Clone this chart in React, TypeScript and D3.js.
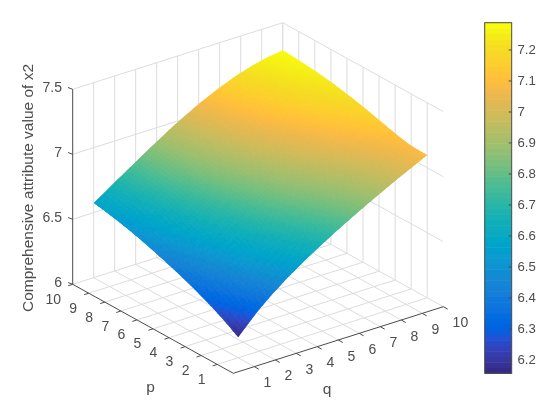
import React from "react";
import * as d3 from "d3";

const pTicks = [1, 2, 3, 4, 5, 6, 7, 8, 9, 10];
const qTicks = [1, 2, 3, 4, 5, 6, 7, 8, 9, 10];
const zTicks = [6, 6.5, 7, 7.5];
const zTickLabels = ["6", "6.5", "7", "7.5"];
const cbTicks = [6.2, 6.3, 6.4, 6.5, 6.6, 6.7, 6.8, 6.9, 7, 7.1, 7.2];
const cbLabels = ["6.2", "6.3", "6.4", "6.5", "6.6", "6.7", "6.8", "6.9", "7", "7.1", "7.2"];

// rows: p = 1..10, columns: q = 1..10
const zRowP1 = [6.157, 6.319, 6.452, 6.566, 6.668, 6.763, 6.853, 6.938, 7.019, 7.098];
const zRowP2 = [6.233, 6.384, 6.509, 6.617, 6.713, 6.802, 6.886, 6.963, 7.035, 7.103];
const zRowP3 = [6.298, 6.441, 6.562, 6.667, 6.761, 6.848, 6.928, 7.001, 7.068, 7.128];
const zRowP4 = [6.354, 6.492, 6.61, 6.714, 6.809, 6.895, 6.974, 7.045, 7.108, 7.163];
const zRowP5 = [6.403, 6.536, 6.652, 6.756, 6.852, 6.938, 7.017, 7.086, 7.146, 7.196];
const zRowP6 = [6.447, 6.575, 6.689, 6.794, 6.89, 6.977, 7.055, 7.123, 7.18, 7.226];
const zRowP7 = [6.487, 6.61, 6.723, 6.827, 6.923, 7.011, 7.088, 7.155, 7.209, 7.25];
const zRowP8 = [6.522, 6.64, 6.75, 6.854, 6.951, 7.039, 7.116, 7.18, 7.231, 7.267];
const zRowP9 = [6.551, 6.664, 6.773, 6.877, 6.974, 7.062, 7.138, 7.201, 7.249, 7.28];
const zRowP10 = [6.574, 6.682, 6.789, 6.893, 6.991, 7.079, 7.155, 7.217, 7.262, 7.288];
const zRows = [zRowP1, zRowP2, zRowP3, zRowP4, zRowP5, zRowP6, zRowP7, zRowP8, zRowP9, zRowP10];

const parula = [
  [0.2081, 0.1663, 0.5292], [0.2116, 0.1898, 0.5777], [0.2123, 0.2138, 0.627], [0.2081, 0.2386, 0.6771],
  [0.1959, 0.2645, 0.7279], [0.1707, 0.2919, 0.7792], [0.1253, 0.3242, 0.8303], [0.0591, 0.3598, 0.8683],
  [0.0117, 0.3875, 0.882], [0.006, 0.4086, 0.8828], [0.0165, 0.4266, 0.8786], [0.0329, 0.443, 0.872],
  [0.0498, 0.4586, 0.8641], [0.0629, 0.4737, 0.8554], [0.0723, 0.4887, 0.8467], [0.0779, 0.504, 0.8384],
  [0.0793, 0.52, 0.8312], [0.0749, 0.5375, 0.8263], [0.0641, 0.557, 0.824], [0.0488, 0.5772, 0.8228],
  [0.0343, 0.5966, 0.8199], [0.0265, 0.6137, 0.8135], [0.0239, 0.6287, 0.8038], [0.0231, 0.6418, 0.7913],
  [0.0228, 0.6535, 0.7768], [0.0267, 0.6642, 0.7607], [0.0384, 0.6743, 0.7436], [0.059, 0.6838, 0.7254],
  [0.0843, 0.6928, 0.7062], [0.1133, 0.7015, 0.6859], [0.1453, 0.7098, 0.6646], [0.1801, 0.7177, 0.6424],
  [0.2178, 0.725, 0.6193], [0.2586, 0.7317, 0.5954], [0.3022, 0.7376, 0.5712], [0.3482, 0.7424, 0.5473],
  [0.3953, 0.7459, 0.5244], [0.442, 0.7481, 0.5033], [0.4871, 0.7491, 0.484], [0.53, 0.7491, 0.4661],
  [0.5709, 0.7485, 0.4494], [0.6099, 0.7473, 0.4337], [0.6473, 0.7456, 0.4188], [0.6834, 0.7435, 0.4044],
  [0.7184, 0.7411, 0.3905], [0.7525, 0.7384, 0.3768], [0.7858, 0.7356, 0.3633], [0.8185, 0.7327, 0.3498],
  [0.8507, 0.7299, 0.336], [0.8824, 0.7274, 0.3217], [0.9139, 0.7258, 0.3063], [0.945, 0.7261, 0.2886],
  [0.9739, 0.7314, 0.2666], [0.9938, 0.7455, 0.2403], [0.999, 0.7653, 0.2164], [0.9955, 0.7861, 0.1967],
  [0.988, 0.8066, 0.1794], [0.9789, 0.8271, 0.1633], [0.9697, 0.8481, 0.1475], [0.9626, 0.8705, 0.1309],
  [0.9589, 0.8949, 0.1132], [0.9598, 0.9218, 0.0948], [0.9661, 0.9514, 0.0755], [0.9763, 0.9831, 0.0538],
];
const cmapColors = parula.map(([r, g, b]) => d3.rgb(r * 255, g * 255, b * 255).formatRgb());

const zMin = 6.157;
const zMax = 7.288;
const colorAt = d3
  .scaleLinear<string>()
  .domain(d3.range(64).map((i) => zMin + ((zMax - zMin) * i) / 63))
  .range(cmapColors)
  .clamp(true);

// projection of the axes box
const originX = 233.3;
const originY = 373.3;
const qToX = d3.scaleLinear().domain([0, 10]).range([0, 210]);
const qToY = d3.scaleLinear().domain([0, 10]).range([0, -66.6]);
const pToX = d3.scaleLinear().domain([0, 10]).range([0, -160.6]);
const pToY = d3.scaleLinear().domain([0, 10]).range([0, -89]);
const zToY = d3.scaleLinear().domain([6, 7.5]).range([0, -195]);
const project = (p: number, q: number, z: number): [number, number] => [
  originX + qToX(q) + pToX(p),
  originY + qToY(q) + pToY(p) + zToY(z),
];
const pathOf = d3.line<[number, number]>();
const seg = (a: [number, number, number], b: [number, number, number]) =>
  pathOf([project(a[0], a[1], a[2]), project(b[0], b[1], b[2])]) as string;

// Catmull-Rom through the read grid values, so that the sheet stays smooth between them
const cr = (a: number, b: number, c: number, d: number, t: number) =>
  0.5 * (2 * b + (c - a) * t + (2 * a - 5 * b + 4 * c - d) * t * t + (3 * b - a - 3 * c + d) * t * t * t);
const edge = (arr: number[], i: number) => {
  if (i < 0) return 2 * arr[0] - arr[1];
  if (i >= arr.length) return 2 * arr[arr.length - 1] - arr[arr.length - 2];
  return arr[i];
};
const alongRow = (row: number[], i: number, t: number) =>
  cr(edge(row, i - 1), edge(row, i), edge(row, i + 1), edge(row, i + 2), t);
function zSmooth(pi: number, s: number, qi: number, t: number) {
  const col = zRows.map((row) => alongRow(row, qi, t));
  return alongRow(col, pi, s);
}

const SUB = 7;
function surfaceCells() {
  const n = 9 * SUB;
  const grid: number[][] = d3.range(n + 1).map((i) =>
    d3.range(n + 1).map((j) => {
      const pi = Math.min(8, Math.floor(i / SUB));
      const qi = Math.min(8, Math.floor(j / SUB));
      return zSmooth(pi, i / SUB - pi, qi, j / SUB - qi);
    })
  );
  const pos = (i: number) => 1 + i / SUB;
  const cells: { d: string; c: string }[] = [];
  for (let i = n - 1; i >= 0; i--) {
    for (let j = n - 1; j >= 0; j--) {
      const pts: [number, number][] = [
        project(pos(i), pos(j), grid[i][j]),
        project(pos(i + 1), pos(j), grid[i + 1][j]),
        project(pos(i + 1), pos(j + 1), grid[i + 1][j + 1]),
        project(pos(i), pos(j + 1), grid[i][j + 1]),
      ];
      cells.push({
        d: (pathOf(pts) as string) + "Z",
        c: colorAt((grid[i][j] + grid[i + 1][j] + grid[i + 1][j + 1] + grid[i][j + 1]) / 4),
      });
    }
  }
  const outline: [number, number][] = [];
  for (let j = 0; j <= n; j++) outline.push(project(1, pos(j), grid[0][j]));
  for (let i = 1; i <= n; i++) outline.push(project(pos(i), 10, grid[i][n]));
  for (let j = n - 1; j >= 0; j--) outline.push(project(10, pos(j), grid[n][j]));
  for (let i = n - 1; i > 0; i--) outline.push(project(pos(i), 1, grid[i][0]));
  return { cells, outline: (pathOf(outline) as string) + "Z" };
}

const FONT = "'Liberation Sans', Arial, sans-serif";
const TEXT = "#4d4d4d";
const GRID = "#dcdcdc";
const AXIS = "#4a4a4a";

const cbX = 484.7;
const cbW = 27;
const cbTop = 22.7;
const cbBottom = 373.3;
const cbScale = d3.scaleLinear().domain([zMin, zMax]).range([cbBottom, cbTop]);
const cbBand = d3.scaleBand<number>().domain(d3.range(64)).range([cbBottom, cbTop]);

export default function App() {
  const { cells, outline } = surfaceCells();
  return (
    <svg
      width={550}
      height={412}
      viewBox="0 0 550 412"
      style={{ position: "absolute", left: 0, top: 0, display: "block", background: "#fff" }}
      fontFamily={FONT}
    >
      <defs>
        <filter id="soft" x="0" y="0" width="100%" height="100%">
          <feGaussianBlur stdDeviation="0.4" />
        </filter>
        <clipPath id="sheet">
          <path d={outline} />
        </clipPath>
      </defs>
      <g filter="url(#soft)">
        <g stroke={GRID} strokeWidth={1} fill="none">
          {qTicks.map((q) => (
            <path key={"fq" + q} d={seg([0, q, 6], [10, q, 6])} />
          ))}
          {pTicks.map((p) => (
            <path key={"fp" + p} d={seg([p, 0, 6], [p, 10, 6])} />
          ))}
          {qTicks.map((q) => (
            <path key={"wq" + q} d={seg([10, q, 6], [10, q, 7.5])} />
          ))}
          {pTicks.map((p) => (
            <path key={"wp" + p} d={seg([p, 10, 6], [p, 10, 7.5])} />
          ))}
          {zTicks.slice(1).map((z) => (
            <path key={"zl" + z} d={seg([10, 0, z], [10, 10, z])} />
          ))}
          {zTicks.slice(1).map((z) => (
            <path key={"zr" + z} d={seg([10, 10, z], [0, 10, z])} />
          ))}
        </g>

        <g clipPath="url(#sheet)">
          {cells.map((c, i) => (
            <path key={i} d={c.d} fill={c.c} stroke={c.c} strokeWidth={1} />
          ))}
        </g>

        <g stroke={AXIS} strokeWidth={1} fill="none">
          <path d={seg([10, 0, 6], [10, 0, 7.5])} />
          <path d={seg([10, 0, 6], [0, 0, 6])} />
          <path d={seg([0, 0, 6], [0, 10, 6])} />
          {zTicks.map((z) => {
            const [x, y] = project(10, 0, z);
            return <line key={"tz" + z} x1={x} y1={y} x2={x - 4.6} y2={y - 1.8} />;
          })}
          {pTicks.map((p) => {
            const [x, y] = project(p, 0, 6);
            return <line key={"tp" + p} x1={x} y1={y} x2={x - 4.6} y2={y + 1.5} />;
          })}
          {qTicks.map((q) => {
            const [x, y] = project(0, q, 6);
            return <line key={"tq" + q} x1={x} y1={y} x2={x + 4.4} y2={y + 2.5} />;
          })}
        </g>

        <g fill={TEXT} fontSize={14}>
          {zTicks.map((z, i) => {
            const [, y] = project(10, 0, z);
            return (
              <text key={"lz" + z} x={62} y={y - 2.5} textAnchor="end" dominantBaseline="central">
                {zTickLabels[i]}
              </text>
            );
          })}
          {pTicks.map((p) => {
            const [x, y] = project(p, 0, 6);
            return (
              <text key={"lp" + p} x={x - 11.7} y={y + 14.5} textAnchor="end" dominantBaseline="central">
                {p}
              </text>
            );
          })}
          {qTicks.map((q) => {
            const [x, y] = project(0, q, 6);
            return (
              <text key={"lq" + q} x={x + 9.3} y={y + 15.5} textAnchor="start" dominantBaseline="central">
                {q}
              </text>
            );
          })}
        </g>

        <g fill={TEXT} fontSize={15.5} textAnchor="middle">
          <text x={150.5} y={392}>p</text>
          <text x={327} y={394}>q</text>
          <text transform="translate(33,188) rotate(-90)">Comprehensive attribute value of x2</text>
        </g>

        <g>
          {d3.range(64).map((i) => (
            <rect
              key={"cb" + i}
              x={cbX}
              y={cbBand(i) as number}
              width={cbW}
              height={cbBand.bandwidth() + 0.5}
              fill={cmapColors[i]}
            />
          ))}
          <rect x={cbX} y={cbTop} width={cbW} height={cbBottom - cbTop} fill="none" stroke={AXIS} strokeWidth={1} />
          {cbTicks.map((t, i) => (
            <g key={"ct" + t}>
              <line x1={cbX + cbW - 3} x2={cbX + cbW} y1={cbScale(t)} y2={cbScale(t)} stroke={AXIS} strokeWidth={1} />
              <text x={517.5} y={cbScale(t)} fill={TEXT} fontSize={13.2} dominantBaseline="central">
                {cbLabels[i]}
              </text>
            </g>
          ))}
        </g>
      </g>
    </svg>
  );
}
